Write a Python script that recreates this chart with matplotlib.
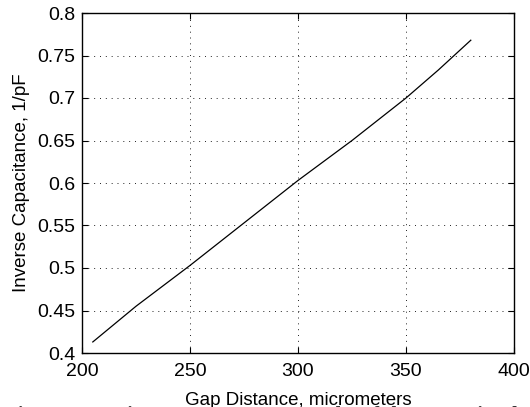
import matplotlib
matplotlib.use("Agg")
import matplotlib.pyplot as plt

# inverse capacitance vs gap distance
gap_um = [205, 225, 250, 275, 300, 325, 350, 365, 380]
inv_cap = [0.413, 0.455, 0.503, 0.553, 0.603, 0.650, 0.700, 0.733, 0.768]

x_ticks = [200, 250, 300, 350, 400]
y_ticks = [0.4, 0.45, 0.5, 0.55, 0.6, 0.65, 0.7, 0.75, 0.8]
y_labels = ["0.4", "0.45", "0.5", "0.55", "0.6", "0.65", "0.7", "0.75", "0.8"]

plt.rcParams['font.family'] = ['Liberation Sans', 'DejaVu Sans']

fig = plt.figure(figsize=(5.30, 4.07), dpi=100)
ax = fig.add_axes([82 / 530, 1 - 353 / 407, 432 / 530, 340 / 407])

ax.plot(gap_um, inv_cap, color='black', linewidth=0.9)

ax.set_xlim(200, 400)
ax.set_ylim(0.4, 0.8)
ax.set_xticks(x_ticks)
ax.set_yticks(y_ticks)
ax.set_yticklabels(y_labels)
ax.tick_params(direction='in', length=4, width=0.8, labelsize=14,
               top=True, right=True)
ax.tick_params(axis='x', pad=7)
ax.tick_params(axis='y', pad=5)
ax.grid(True, linestyle=(0, (1, 5)), color='#222222', linewidth=0.7)
for s in ax.spines.values():
    s.set_linewidth(1.0)

ax.set_xlabel("Gap Distance, micrometers", fontsize=13.5, labelpad=9)
ax.set_ylabel("Inverse Capacitance, 1/pF", fontsize=13.5, labelpad=5)

# caption cut off at the bottom edge of the picture
fig.text(0.01, 1 / 407, "Fig. 5.  Capacitance versus Gap Results of the FEM simulation",
         family=['Liberation Serif', 'DejaVu Serif'], fontweight='bold',
         fontsize=15, color='#333333', va='top')

fig.savefig("out.png", dpi=100)
